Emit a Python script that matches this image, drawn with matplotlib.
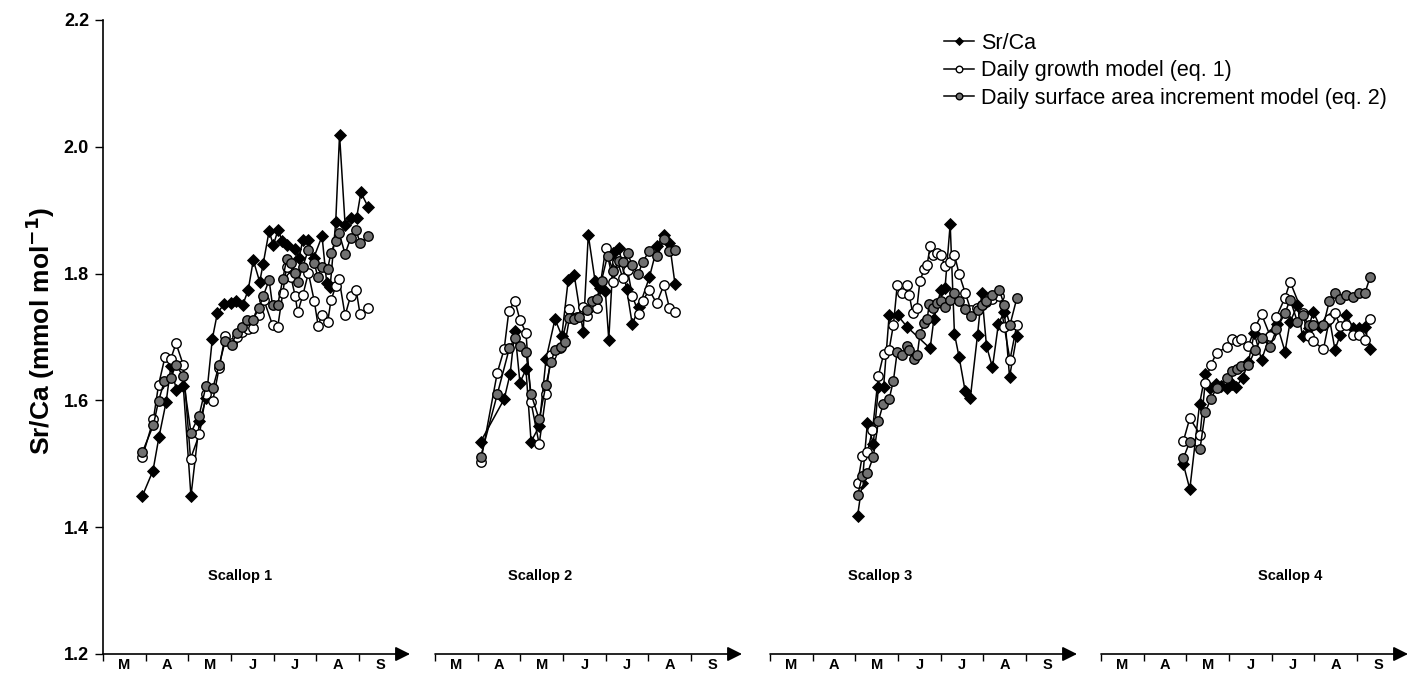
import matplotlib
matplotlib.use('Agg')
import matplotlib.pyplot as plt

plt.rcParams['font.family'] = ['Liberation Sans', 'DejaVu Sans']

# month labels along each time axis (x is in months counted from 1 March)
months = ['M', 'A', 'M', 'J', 'J', 'A', 'S']
scallop_names = ['Scallop 1', 'Scallop 2', 'Scallop 3', 'Scallop 4']
series_names = ['Sr/Ca', 'Daily growth model (eq. 1)', 'Daily surface area increment model (eq. 2)']

# Scallop 1
s1_srca_x = [0.92, 1.17, 1.31, 1.48, 1.59, 1.72, 1.88, 2.06, 2.26, 2.42, 2.56, 2.68, 2.84, 2.99, 3.12,
             3.27, 3.40, 3.52, 3.67, 3.75, 3.89, 3.99, 4.10, 4.20, 4.32, 4.50, 4.59, 4.68, 4.81, 4.93,
             5.13, 5.24, 5.32, 5.45, 5.54, 5.67, 5.80, 5.94, 6.04, 6.21]
s1_srca_y = [1.449, 1.489, 1.542, 1.598, 1.654, 1.616, 1.623, 1.449, 1.567, 1.604, 1.697, 1.738, 1.752,
             1.754, 1.757, 1.750, 1.774, 1.821, 1.787, 1.815, 1.867, 1.845, 1.869, 1.851, 1.845, 1.839,
             1.824, 1.853, 1.853, 1.824, 1.859, 1.785, 1.779, 1.881, 2.019, 1.877, 1.887, 1.888, 1.928,
             1.905]
s1_grow_x = [0.92, 1.18, 1.30, 1.45, 1.59, 1.71, 1.88, 2.05, 2.26, 2.41, 2.57, 2.72, 2.86, 3.01, 3.14,
             3.26, 3.39, 3.51, 3.66, 3.77, 3.97, 4.09, 4.21, 4.30, 4.40, 4.50, 4.56, 4.68, 4.81, 4.95,
             5.04, 5.12, 5.26, 5.34, 5.45, 5.53, 5.67, 5.80, 5.93, 6.02, 6.21]
s1_grow_y = [1.510, 1.570, 1.624, 1.668, 1.666, 1.690, 1.656, 1.508, 1.547, 1.610, 1.599, 1.651, 1.702,
             1.690, 1.700, 1.708, 1.712, 1.714, 1.734, 1.758, 1.719, 1.715, 1.769, 1.811, 1.795, 1.765,
             1.739, 1.766, 1.801, 1.756, 1.717, 1.735, 1.723, 1.758, 1.780, 1.791, 1.734, 1.765, 1.774,
             1.736, 1.745]
s1_area_x = [0.92, 1.18, 1.30, 1.44, 1.59, 1.71, 1.87, 2.06, 2.25, 2.41, 2.57, 2.72, 2.86, 3.01, 3.13,
             3.26, 3.37, 3.51, 3.65, 3.75, 3.89, 3.97, 4.09, 4.21, 4.30, 4.40, 4.50, 4.56, 4.68, 4.81,
             4.95, 5.03, 5.12, 5.26, 5.34, 5.45, 5.53, 5.67, 5.80, 5.93, 6.02, 6.21]
s1_area_y = [1.518, 1.561, 1.599, 1.631, 1.636, 1.656, 1.639, 1.549, 1.576, 1.622, 1.619, 1.656, 1.693,
             1.687, 1.707, 1.715, 1.727, 1.727, 1.745, 1.764, 1.790, 1.750, 1.750, 1.791, 1.823, 1.816,
             1.801, 1.787, 1.811, 1.838, 1.816, 1.795, 1.810, 1.807, 1.833, 1.852, 1.864, 1.831, 1.856,
             1.868, 1.848, 1.859]

# Scallop 2
s2_srca_x = [1.07, 1.62, 1.76, 1.87, 1.99, 2.13, 2.25, 2.44, 2.60, 2.81, 2.97, 3.12, 3.26, 3.47, 3.59,
             3.75, 3.86, 3.99, 4.07, 4.18, 4.31, 4.49, 4.62, 4.78, 5.02, 5.21, 5.36, 5.49, 5.62]
s2_srca_y = [1.535, 1.602, 1.642, 1.710, 1.628, 1.649, 1.535, 1.559, 1.665, 1.728, 1.702, 1.790, 1.798,
             1.708, 1.861, 1.788, 1.777, 1.772, 1.696, 1.832, 1.840, 1.775, 1.720, 1.747, 1.794, 1.844,
             1.861, 1.849, 1.784]
s2_grow_x = [1.07, 1.46, 1.62, 1.73, 1.87, 1.99, 2.13, 2.25, 2.44, 2.60, 2.72, 2.93, 3.15, 3.32, 3.47,
             3.57, 3.79, 4.00, 4.18, 4.27, 4.40, 4.51, 4.62, 4.78, 4.86, 5.02, 5.19, 5.36, 5.49, 5.62]
s2_grow_y = [1.503, 1.644, 1.681, 1.741, 1.757, 1.727, 1.707, 1.597, 1.531, 1.610, 1.672, 1.682, 1.744,
             1.731, 1.748, 1.733, 1.745, 1.841, 1.786, 1.819, 1.793, 1.806, 1.765, 1.736, 1.757, 1.774,
             1.753, 1.782, 1.746, 1.740]
s2_area_x = [1.07, 1.46, 1.74, 1.87, 1.99, 2.13, 2.25, 2.44, 2.60, 2.72, 2.81, 2.94, 3.05, 3.15, 3.26,
             3.38, 3.55, 3.67, 3.79, 3.90, 4.04, 4.18, 4.31, 4.40, 4.51, 4.62, 4.76, 4.86, 5.02, 5.21,
             5.36, 5.49, 5.62]
s2_area_y = [1.511, 1.610, 1.682, 1.698, 1.686, 1.677, 1.610, 1.570, 1.625, 1.661, 1.680, 1.684, 1.692,
             1.730, 1.729, 1.731, 1.743, 1.757, 1.760, 1.789, 1.828, 1.804, 1.820, 1.819, 1.832, 1.813,
             1.799, 1.818, 1.836, 1.828, 1.854, 1.836, 1.837]

# Scallop 3
s3_srca_x = [2.05, 2.16, 2.28, 2.42, 2.54, 2.66, 2.79, 2.99, 3.21, 3.75, 3.84, 4.00, 4.10, 4.22, 4.32,
             4.43, 4.57, 4.69, 4.86, 4.96, 5.07, 5.21, 5.35, 5.49, 5.61, 5.78]
s3_srca_y = [1.417, 1.470, 1.564, 1.532, 1.621, 1.621, 1.734, 1.734, 1.716, 1.682, 1.729, 1.774, 1.778,
             1.878, 1.705, 1.668, 1.615, 1.603, 1.703, 1.769, 1.686, 1.652, 1.721, 1.740, 1.637, 1.702]
s3_grow_x = [2.05, 2.16, 2.28, 2.40, 2.54, 2.66, 2.79, 2.89, 2.98, 3.08, 3.20, 3.26, 3.34, 3.44, 3.51,
             3.61, 3.68, 3.75, 3.81, 3.90, 4.00, 4.10, 4.22, 4.32, 4.43, 4.57, 4.70, 4.84, 4.96, 5.07,
             5.21, 5.37, 5.49, 5.62, 5.78]
s3_grow_y = [1.469, 1.512, 1.518, 1.553, 1.639, 1.673, 1.680, 1.719, 1.782, 1.769, 1.782, 1.767, 1.738,
             1.745, 1.788, 1.807, 1.814, 1.843, 1.829, 1.832, 1.829, 1.812, 1.819, 1.830, 1.799, 1.770,
             1.743, 1.745, 1.750, 1.755, 1.760, 1.764, 1.715, 1.664, 1.719]
s3_area_x = [2.05, 2.16, 2.28, 2.42, 2.54, 2.65, 2.79, 2.89, 2.98, 3.08, 3.22, 3.26, 3.37, 3.45, 3.51,
             3.61, 3.68, 3.73, 3.82, 3.90, 4.00, 4.10, 4.22, 4.32, 4.43, 4.57, 4.70, 4.86, 4.96, 5.07,
             5.21, 5.37, 5.49, 5.62, 5.78]
s3_area_y = [1.450, 1.480, 1.485, 1.511, 1.568, 1.594, 1.602, 1.631, 1.677, 1.672, 1.686, 1.680, 1.665,
             1.672, 1.704, 1.722, 1.728, 1.752, 1.745, 1.753, 1.756, 1.748, 1.759, 1.770, 1.757, 1.744,
             1.733, 1.742, 1.750, 1.757, 1.766, 1.774, 1.750, 1.719, 1.761]

# Scallop 4
s4_srca_x = [1.93, 2.08, 2.31, 2.44, 2.56, 2.70, 2.82, 2.94, 3.06, 3.16, 3.32, 3.45, 3.59, 3.76, 3.96,
             4.12, 4.31, 4.43, 4.60, 4.72, 4.86, 4.97, 5.13, 5.25, 5.35, 5.48, 5.60, 5.74, 5.91, 6.05,
             6.18, 6.30]
s4_srca_y = [1.499, 1.460, 1.595, 1.641, 1.620, 1.626, 1.622, 1.619, 1.626, 1.621, 1.636, 1.660, 1.706,
             1.664, 1.703, 1.720, 1.677, 1.724, 1.750, 1.701, 1.714, 1.740, 1.716, 1.720, 1.729, 1.680,
             1.703, 1.735, 1.714, 1.714, 1.716, 1.681]
s4_grow_x = [1.93, 2.08, 2.32, 2.44, 2.57, 2.71, 2.94, 3.06, 3.18, 3.29, 3.45, 3.61, 3.76, 3.96, 4.11,
             4.31, 4.43, 4.72, 4.86, 4.97, 5.21, 5.35, 5.48, 5.60, 5.74, 5.91, 6.05, 6.18, 6.30]
s4_grow_y = [1.536, 1.572, 1.546, 1.628, 1.656, 1.675, 1.684, 1.697, 1.694, 1.697, 1.686, 1.715, 1.736,
             1.702, 1.732, 1.762, 1.787, 1.738, 1.701, 1.693, 1.681, 1.728, 1.738, 1.717, 1.719, 1.703,
             1.703, 1.695, 1.729]
s4_area_x = [1.93, 2.08, 2.32, 2.44, 2.57, 2.71, 2.94, 3.06, 3.18, 3.29, 3.45, 3.61, 3.76, 3.96, 4.11,
             4.31, 4.43, 4.60, 4.72, 4.86, 4.97, 5.21, 5.35, 5.48, 5.60, 5.74, 5.91, 6.05, 6.18, 6.30]
s4_area_y = [1.509, 1.535, 1.524, 1.581, 1.602, 1.620, 1.635, 1.647, 1.649, 1.655, 1.656, 1.679, 1.699,
             1.685, 1.712, 1.738, 1.759, 1.724, 1.735, 1.719, 1.719, 1.719, 1.757, 1.769, 1.760, 1.767,
             1.763, 1.769, 1.769, 1.794]

panels = [
    (s1_srca_x, s1_srca_y, s1_grow_x, s1_grow_y, s1_area_x, s1_area_y),
    (s2_srca_x, s2_srca_y, s2_grow_x, s2_grow_y, s2_area_x, s2_area_y),
    (s3_srca_x, s3_srca_y, s3_grow_x, s3_grow_y, s3_area_x, s3_area_y),
    (s4_srca_x, s4_srca_y, s4_grow_x, s4_grow_y, s4_area_x, s4_area_y),
]
label_pos = [(3.2, 1.323), (2.46, 1.323), (2.58, 1.323), (4.43, 1.323)]

W, H = 1408, 675
fig = plt.figure(figsize=(W / 100, H / 100), dpi=100)

panel_left = [103, 435, 770, 1101]   # px
panel_w = 307
y_bot, y_top = 654, 20
xmax = 7.19

for i, (sx, sy, gx, gy, ax_, ay) in enumerate(panels):
    ax = fig.add_axes([panel_left[i] / W, 1 - y_bot / H, panel_w / W, (y_bot - y_top) / H])
    ax.set_xlim(0, xmax)
    ax.set_ylim(1.2, 2.2)
    ax.patch.set_visible(False)
    for s in ['top', 'right', 'bottom']:
        ax.spines[s].set_visible(False)

    l1, = ax.plot(sx, sy, '-', color='black', lw=1.1, marker='D', ms=6.3,
                  mfc='black', mec='black', mew=0.6, zorder=3)
    l2, = ax.plot(gx, gy, '-', color='black', lw=1.1, marker='o', ms=6.8,
                  mfc='white', mec='black', mew=1.0, zorder=4)
    l3, = ax.plot(ax_, ay, '-', color='black', lw=1.1, marker='o', ms=6.8,
                  mfc='#707070', mec='black', mew=1.0, zorder=5)
    if i == 0:
        handles = [l1, l2, l3]

    # time axis with arrow head
    ax.annotate('', xy=(1, 0), xytext=(0, 0), xycoords='axes fraction',
                arrowprops=dict(arrowstyle='-|>', color='black', lw=1.2,
                                mutation_scale=22, shrinkA=0, shrinkB=0),
                annotation_clip=False)

    ax.set_xticks(range(7))
    ax.set_xticklabels([])
    ax.set_xticks([m + 0.5 for m in range(7)], minor=True)
    ax.set_xticklabels(months, minor=True, fontsize=10.5, fontweight='bold')
    ax.tick_params(axis='x', which='major', direction='out', length=5, width=1)
    ax.tick_params(axis='x', which='minor', length=0, pad=3)

    if i == 0:
        ax.spines['left'].set_linewidth(1.2)
        ax.set_yticks([1.2, 1.4, 1.6, 1.8, 2.0, 2.2])
        ax.set_yticklabels(['%.1f' % v for v in [1.2, 1.4, 1.6, 1.8, 2.0, 2.2]],
                           fontsize=13, fontweight='bold')
        ax.tick_params(axis='y', direction='out', length=6, width=1, pad=4)
        ax.set_ylabel('Sr/Ca (mmol mol$^{\\mathbf{-1}}$)', fontsize=19, fontweight='bold')
        ax.yaxis.set_label_coords(-0.15, 0.51)
    else:
        ax.spines['left'].set_visible(False)
        ax.set_yticks([])

    lx, ly = label_pos[i]
    ax.text(lx, ly, scallop_names[i], ha='center', va='center', fontsize=10.5, fontweight='bold')

fig.legend(handles, series_names, loc='upper left', bbox_to_anchor=(944 / W, 1 - 33 / H),
           frameon=False, fontsize=15.5, handlelength=1.4, handletextpad=0.3,
           labelspacing=0.3, markerscale=0.7, borderaxespad=0, borderpad=0)

fig.savefig('out.png', dpi=100)
